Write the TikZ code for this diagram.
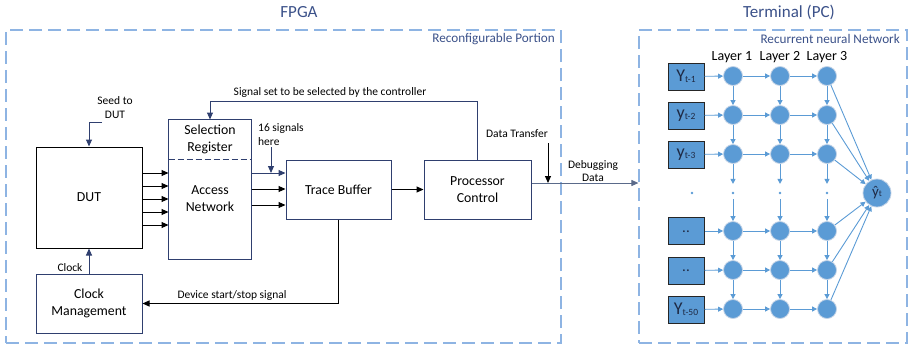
\documentclass[tikz,border=0pt]{standalone}
\usepackage{fontspec}
\setmainfont{Carlito}
\usetikzlibrary{arrows.meta}
\definecolor{navy}{HTML}{2F3F6F}
\definecolor{titleblue}{HTML}{3B5189}
\definecolor{regionblue}{HTML}{8EB4E3}
\definecolor{rnnblue}{HTML}{5B9BD5}
\definecolor{halo}{HTML}{C3D3E6}
\definecolor{debugline}{HTML}{5A6A8A}
\definecolor{intext}{HTML}{1F2A44}
\tikzset{
  box/.style={draw=navy, line width=1pt, inner sep=0pt, align=center,
    font=\fontsize{13.8}{17}\selectfont},
  lbl/.style={font=\fontsize{11.5}{14}\selectfont, align=center, inner sep=0pt},
  arr/.style={-{Triangle[length=7pt,width=6pt]}, line width=1pt},
  region/.style={draw=regionblue, dash pattern=on 13pt off 6pt, line width=1.2pt, inner sep=0pt},
  title/.style={font=\fontsize{17}{20}\selectfont, text=titleblue, inner sep=0pt},
  subtitle/.style={font=\fontsize{13.2}{15}\selectfont, text=titleblue, inner sep=0pt, anchor=east},
  neuron/.style={circle, fill=rnnblue, draw=halo, line width=0.8pt, minimum size=19pt, inner sep=0pt},
  inbox/.style={fill=rnnblue, draw=black!85, line width=1pt, minimum width=36pt,
    minimum height=27pt, inner sep=0pt, text=intext},
  rarr/.style={draw=rnnblue, line width=0.9pt, -{Triangle[length=5pt,width=5pt]}},
  smalldot/.style={circle, fill=rnnblue, minimum size=2.6pt, inner sep=0pt},
  layer/.style={font=\fontsize{14}{16}\selectfont, inner sep=0pt},
}
\newcommand{\yin}[2]{{\fontsize{18}{18}\selectfont #1}{\fontsize{9.5}{9.5}\selectfont\raisebox{-1pt}{#2}}}
\begin{document}
\begin{tikzpicture}[x=1pt,y=-1pt]
\useasboundingbox (0,0) rectangle (909,346);

% ---------- regions and titles ----------
\node[region, minimum width=555pt, minimum height=313pt] (fpga) at (283.5,186.5) {};
\node[region, minimum width=268pt, minimum height=313pt] (term) at (773,186.5) {};
\node[title] at (299,12) {FPGA};
\node[title] at (789,12) {Terminal (PC)};
\node[subtitle] at (555,39) {Reconfigurable Portion};
\node[subtitle] at (900,39) {Recurrent neural Network};

% ---------- FPGA blocks ----------
\node[box, draw=black, minimum width=106pt, minimum height=101pt] (dut) at (89,197.5) {DUT};
\node[box, minimum width=106pt, minimum height=59pt] (clkm) at (89,303.5) {Clock\\Management};
\node[box, draw=none, minimum width=82pt, minimum height=39pt] (selreg) at (210,139.5) {Selection\\Register};
\node[box, draw=none, minimum width=82pt, minimum height=100pt] (access) at (210,209) {};
\draw[navy, line width=1pt] (selreg.north west) rectangle (access.south east);
\draw[navy, line width=1pt, dash pattern=on 6pt off 3pt] (selreg.south west) -- (selreg.south east);
\node[box, draw=none] at (210,199) {Access\\Network};
\node[box, minimum width=105pt, minimum height=59pt] (trace) at (338.5,189.5) {Trace Buffer};
\node[box, minimum width=107pt, minimum height=59pt] (proc) at (477.5,189.5) {Processor\\Control};

% ---------- FPGA connectors ----------
\coordinate (seed) at (102,122);
\draw[arr, navy] (seed) -| (dut.north);
\node[lbl] at (115,108) {Seed to\\DUT};

\foreach \yy in {173,186,199,212,225}
  \draw[arr] (dut.east |- 0,\yy) -- (access.west |- 0,\yy);

\draw[arr, navy] (access.east |- 0,173) -- (trace.west |- 0,173);
\foreach \yy in {189,205}
  \draw[arr] (access.east |- 0,\yy) -- (trace.west |- 0,\yy);
\coordinate (sig16) at (271,147);
\draw[arr, navy] (sig16) -- (271,173);
\node[lbl, align=left, anchor=west] at (258,134.5) {16 signals\\here};

\draw[arr] (trace) -- (proc);

\draw[arr, navy] (proc.north) -- ++(0,-58) -| (selreg.north);
\node[lbl] at (330,92) {Signal set to be selected by the controller};

\draw[arr, debugline] (proc.east |- 0,183) -- (term.west |- 0,183);
\coordinate (dtr) at (548,143);
\draw[arr] (dtr) -- (548,183);
\node[lbl] at (517,134) {Data Transfer};
\node[lbl, font=\fontsize{11.5}{13.5}\selectfont] at (593,171) {Debugging\\Data};

\draw[arr, navy] (clkm.north) -- (dut.south);
\node[lbl] at (70,268) {Clock};

\draw[arr] (trace.south) |- (clkm.east);
\node[lbl] at (232,295) {Device start/stop signal};

% ---------- recurrent network ----------
\node[layer] at (732,57) {Layer 1};
\node[layer] at (780,57) {Layer 2};
\node[layer] at (827,57) {Layer 3};

\foreach \i/\yy in {1/76,2/115,3/154,4/231,5/270,6/309} {
  \node[neuron] (a\i) at (733,\yy) {};
  \node[neuron] (b\i) at (780,\yy) {};
  \node[neuron] (c\i) at (827,\yy) {};
}
\node[inbox] (in1) at (686,76.5) {\yin{Y}{t-1}};
\node[inbox] (in2) at (686,115.5) {\yin{y}{t-2}};
\node[inbox] (in3) at (686,154.5) {\yin{y}{t-3}};
\node[inbox] (in4) at (686,231) {\raisebox{-3pt}{\fontsize{15}{15}\selectfont ..}};
\node[inbox] (in5) at (686,270.5) {\raisebox{-3pt}{\fontsize{15}{15}\selectfont ..}};
\node[inbox] (in6) at (686,309.5) {\yin{Y}{t-50}};

\node[circle, fill=rnnblue, draw=halo, line width=0.8pt, minimum size=28pt, inner sep=0pt,
  text=intext, font=\fontsize{15}{15}\selectfont] (out) at (877,193)
  {ŷ{\fontsize{9}{9}\selectfont t}};

\node[smalldot] (d0) at (692,193) {};
\node[smalldot] (da) at (733,193) {};
\node[smalldot] (db) at (780,193) {};
\node[smalldot] (dc) at (827,193) {};

\foreach \i in {1,...,6} {
  \draw[rarr] (in\i) -- (a\i);
  \draw[rarr] (a\i) -- (b\i);
  \draw[rarr] (b\i) -- (c\i);
  \draw[rarr] (c\i) -- (out);
}
\foreach \col in {a,b,c} {
  \draw[rarr] (\col1) -- (\col2);
  \draw[rarr] (\col2) -- (\col3);
  \draw[rarr] (\col3.south) -- ++(0,20);
  \draw[rarr] (d\col) ++(0,6) -- (\col4.north);
  \draw[rarr] (\col4) -- (\col5);
  \draw[rarr] (\col5) -- (\col6);
}
\end{tikzpicture}
\end{document}
